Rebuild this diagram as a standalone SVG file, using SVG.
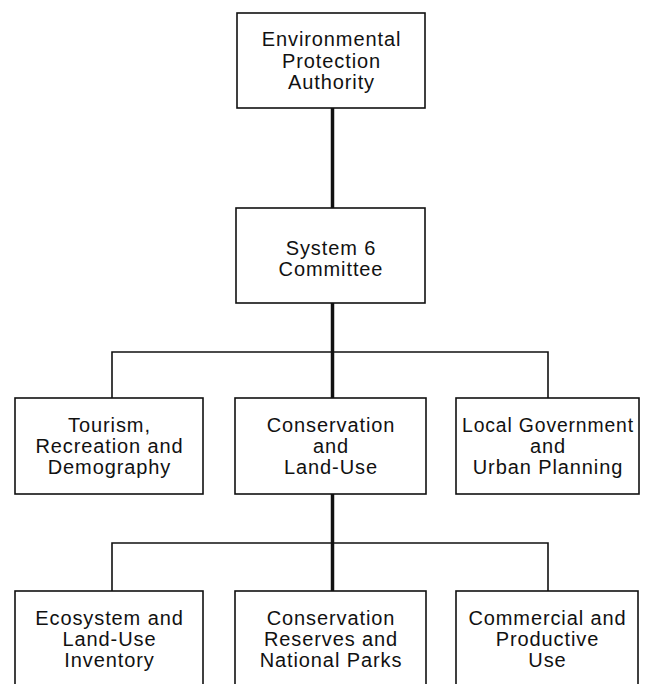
<svg xmlns="http://www.w3.org/2000/svg" width="647" height="684" viewBox="0 0 647 684">
  <style>
    .box { fill: #ffffff; stroke: #111111; stroke-width: 1.6; }
    .lbl { font-family: "Liberation Sans", Arial, Helvetica, sans-serif; font-size: 20px; letter-spacing: 0.9px; fill: #111111; text-anchor: middle; }
    .trunk { stroke: #111111; stroke-width: 3.5; fill: none; }
    .branch { stroke: #111111; stroke-width: 1.6; fill: none; }
  </style>
  <rect width="647" height="684" fill="#ffffff"/>

  <!-- connectors -->
  <g id="connectors">
    <line class="trunk" x1="332.5" y1="108" x2="332.5" y2="208"/>
    <line class="trunk" x1="332.5" y1="303" x2="332.5" y2="398"/>
    <line class="trunk" x1="332.5" y1="494" x2="332.5" y2="591"/>
    <polyline class="branch" points="112,398 112,352 548,352 548,398"/>
    <polyline class="branch" points="112,591 112,543 548,543 548,591"/>
  </g>

  <g id="epa">
    <rect class="box" x="237" y="13" width="188" height="95"/>
    <text class="lbl" x="331.5" y="46">Environmental</text>
    <text class="lbl" x="331.5" y="68">Protection</text>
    <text class="lbl" x="331.5" y="89">Authority</text>
  </g>

  <g id="committee">
    <rect class="box" x="236" y="208" width="189" height="95"/>
    <text class="lbl" x="331" y="255">System 6</text>
    <text class="lbl" x="331" y="276">Committee</text>
  </g>

  <g id="tourism">
    <rect class="box" x="15" y="398" width="188" height="96"/>
    <text class="lbl" x="109.5" y="432">Tourism,</text>
    <text class="lbl" x="109.5" y="453">Recreation and</text>
    <text class="lbl" x="109.5" y="474">Demography</text>
  </g>

  <g id="conservation">
    <rect class="box" x="235" y="398" width="191" height="96"/>
    <text class="lbl" x="331" y="432">Conservation</text>
    <text class="lbl" x="331" y="453">and</text>
    <text class="lbl" x="331" y="474">Land-Use</text>
  </g>

  <g id="local-government">
    <rect class="box" x="456" y="398" width="183" height="96"/>
    <text class="lbl" x="548" y="432" textLength="172" lengthAdjust="spacingAndGlyphs">Local Government</text>
    <text class="lbl" x="548" y="453">and</text>
    <text class="lbl" x="548" y="474">Urban Planning</text>
  </g>

  <g id="ecosystem">
    <rect class="box" x="15" y="591" width="188" height="110"/>
    <text class="lbl" x="109.5" y="625">Ecosystem and</text>
    <text class="lbl" x="109.5" y="646">Land-Use</text>
    <text class="lbl" x="109.5" y="667">Inventory</text>
  </g>

  <g id="reserves">
    <rect class="box" x="235" y="591" width="191" height="110"/>
    <text class="lbl" x="331" y="625">Conservation</text>
    <text class="lbl" x="331" y="646">Reserves and</text>
    <text class="lbl" x="331" y="667">National Parks</text>
  </g>

  <g id="commercial">
    <rect class="box" x="456" y="591" width="182" height="110"/>
    <text class="lbl" x="547.5" y="625">Commercial and</text>
    <text class="lbl" x="547.5" y="646">Productive</text>
    <text class="lbl" x="547.5" y="667">Use</text>
  </g>
</svg>
